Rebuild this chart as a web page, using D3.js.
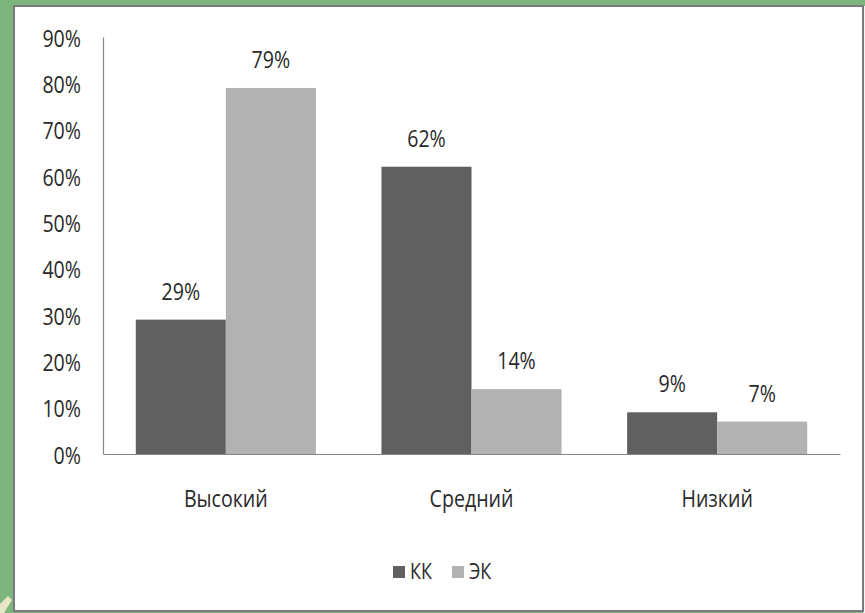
<!DOCTYPE html>
<html><head><meta charset="utf-8">
<script src="https://cdn.jsdelivr.net/npm/d3@7"></script>
<style>html,body{margin:0;padding:0;background:#fff;overflow:hidden}</style>
</head><body>
<svg id="chart" width="865" height="613"></svg>
<script>
const categories = ["Высокий", "Средний", "Низкий"];
const seriesNames = ["КК", "ЭК"];
const valuesKK = [29, 62, 9];
const valuesEK = [79, 14, 7];
const yTicks = [0, 10, 20, 30, 40, 50, 60, 70, 80, 90];
const colors = ["#606060", "#b2b2b2"];

const svg = d3.select("#chart");
const FONT = "'Open Sans', 'Liberation Sans', sans-serif";

// frame: green background, white panel with gray border
svg.append("rect").attr("x",0).attr("y",0).attr("width",865).attr("height",613).attr("fill","#7cb67c");
svg.append("rect").attr("x",863).attr("y",6).attr("width",2).attr("height",607).attr("fill","#f4f4f4");
svg.append("polygon").attr("points","0,613 0,604 8,596 12,600 4,613").attr("fill","#e8e6c8");
svg.append("rect").attr("x",14).attr("y",6).attr("width",849).attr("height",605)
  .attr("fill","#ffffff").attr("stroke","#7a7a7a").attr("stroke-width",2);

const pLeft = 103, pRight = 840, pTop = 37, pBottom = 454;
const x0 = d3.scaleBand().domain(categories).range([pLeft, pRight]).padding(0);
const gap = x0.bandwidth() * 0.1335;
const x1 = d3.scaleBand().domain(seriesNames).range([gap, x0.bandwidth() - gap]).padding(0);
const y = d3.scaleLinear().domain([0, 90]).range([pBottom, pTop]);

// horizontal text compression to mimic the narrow original font
const SX = 0.80;
function txt(g, x, yy, s, size, anchor) {
  return g.append("text")
    .attr("transform", `translate(${x},${yy}) scale(${SX},1)`)
    .attr("font-family", FONT).attr("font-size", size)
    .attr("fill", "#2a2a2a").attr("text-anchor", anchor).text(s);
}

// bars
const data = categories.map((c, i) => ({cat: c, vals: [valuesKK[i], valuesEK[i]]}));
const gBars = svg.append("g");
data.forEach(d => {
  d.vals.forEach((v, j) => {
    const bx = x0(d.cat) + x1(seriesNames[j]);
    gBars.append("rect").attr("x", bx).attr("y", y(v))
      .attr("width", x1.bandwidth()).attr("height", y(0) - y(v))
      .attr("fill", colors[j]);
    txt(svg, bx + x1.bandwidth()/2, y(v) - 20, v + "%", 24.5, "middle");
  });
});

// y axis
const yAxis = d3.axisLeft(y).tickValues(yTicks).tickSize(0).tickFormat(d => d + "%");
const gy = svg.append("g").attr("transform", `translate(${pLeft},0)`).call(yAxis);
gy.select(".domain").attr("stroke", "#868686").attr("stroke-width", 1.2);
gy.selectAll(".tick text").each(function(d) {
  const s = d3.select(this).text();
  d3.select(this).remove();
  txt(svg, 81, y(d) + 9.5, s, 24.5, "end");
});

// x axis
const xAxis = d3.axisBottom(x0).tickSize(0).tickFormat("");
const gx = svg.append("g").attr("transform", `translate(0,${pBottom})`).call(xAxis);
gx.select(".domain").attr("stroke", "#868686").attr("stroke-width", 1.2);
categories.forEach(c => txt(svg, x0(c) + x0.bandwidth()/2, 507, c, 24.5, "middle"));

// legend
const legItems = [{name: seriesNames[0], x: 393}, {name: seriesNames[1], x: 452}];
legItems.forEach((it, i) => {
  svg.append("rect").attr("x", it.x).attr("y", 566).attr("width", 12).attr("height", 12).attr("fill", colors[i]);
  txt(svg, it.x + 17, 579, it.name, 22.5, "start");
});
</script>
</body></html>
